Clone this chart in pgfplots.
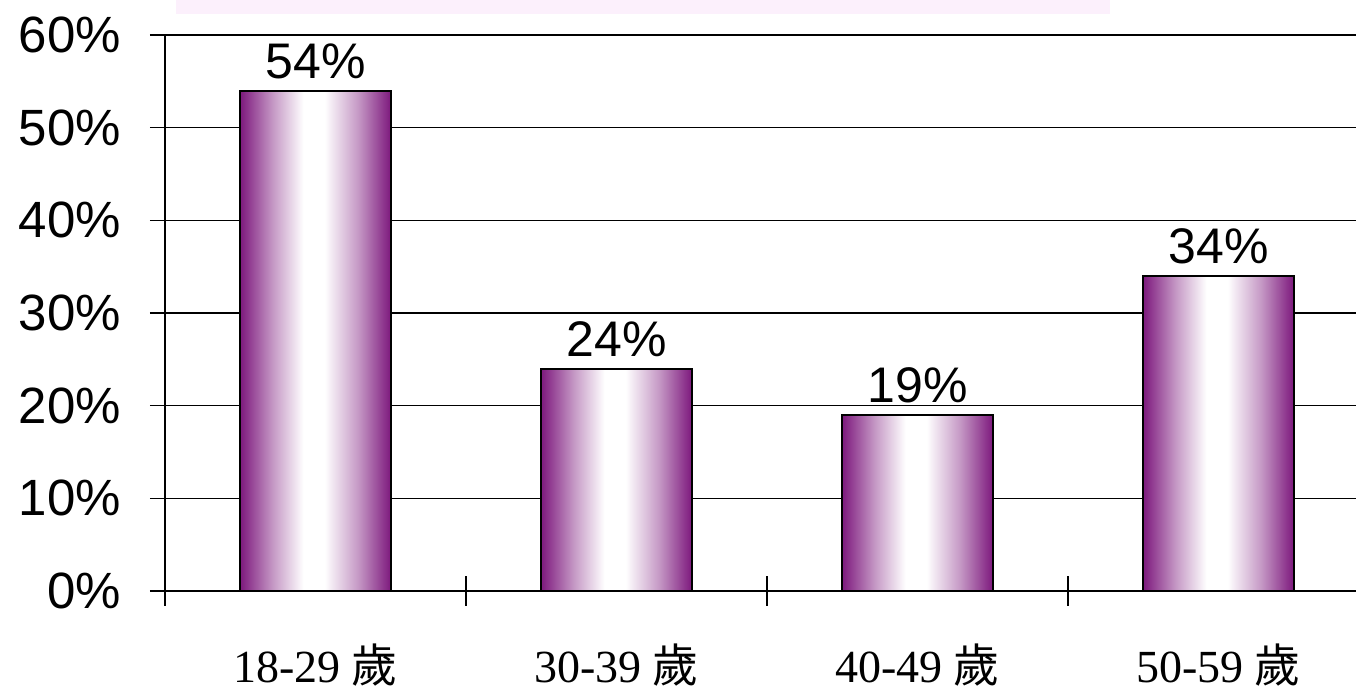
\documentclass[border=0pt]{standalone}
\usepackage{pgfplots}
\pgfplotsset{compat=1.18}
\usepackage{fontspec}
\setmainfont{Liberation Sans}
\newfontfamily\serif{Liberation Serif}
\newfontfamily\cjk{Noto Sans CJK TC}
\definecolor{barpurple}{RGB}{128,30,128}
\definecolor{band}{RGB}{252,240,252}
\pgfdeclarehorizontalshading{barshade}{100bp}{
  color(0bp)=(barpurple); color(25.5bp)=(barpurple);
  color(36bp)=(barpurple!45!white); color(46bp)=(white);
  color(53bp)=(white); color(64bp)=(barpurple!45!white);
  color(74.5bp)=(barpurple); color(100bp)=(barpurple)}

\begin{document}
\begin{tikzpicture}
% 1 px of the reference = 0.5pt
\path[use as bounding box] (0,0) rectangle (678pt,345.5pt);
\fill[band] (88pt,338.5pt) rectangle (555pt,345.5pt);
\begin{axis}[
    at={(82.5pt,50pt)}, anchor=south west,
    scale only axis,
    width=602pt, height=278pt,
    xmin=-0.5, xmax=3.5,
    ymin=0, ymax=60,
    axis x line*=bottom, axis y line*=left,
    axis line style={black, line width=0.75pt},
    xtick={-0.5,0.5,1.5,2.5},
    xticklabels={},
    ytick={0,10,...,60},
    yticklabels={0\%,10\%,20\%,30\%,40\%,50\%,60\%},
    tick align=center,
    major tick length=15pt,
    tick style={black, line width=0.75pt},
    ymajorgrids,
    major grid style={black, line width=0.75pt},
    yticklabel style={font=\fontsize{25.5}{28}\selectfont, xshift=-11pt},
    extra x ticks={0,1,2,3},
    extra x tick labels={{\serif 18-29 {\cjk 歲}},{\serif 30-39 {\cjk 歲}},{\serif 40-49 {\cjk 歲}},{\serif 50-59 {\cjk 歲}}},
    extra x tick style={major tick length=0pt, grid=none,
        xticklabel style={font=\fontsize{23}{26}\selectfont, anchor=base, yshift=-45.5pt}},
    clip=false,
    bar/.style={ybar, bar width=75.5pt, bar shift=0pt, draw=black, line width=1pt,
        shading=barshade,
        nodes near coords={\pgfmathprintnumber[assume math mode=true]{\pgfplotspointmeta}\%},
        every node near coord/.style={font=\fontsize{25}{28}\selectfont, anchor=base, yshift=6pt, black}},
]
\addplot[bar] coordinates {(0,54)};
\addplot[bar] coordinates {(1,24)};
\addplot[bar] coordinates {(2,19)};
\addplot[bar] coordinates {(3,34)};
\end{axis}
\end{tikzpicture}
\end{document}
